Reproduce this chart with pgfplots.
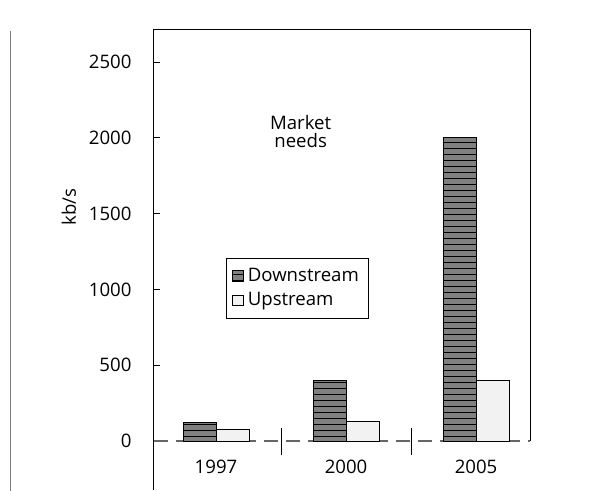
\documentclass[border=0pt]{standalone}
\usepackage{pgfplots}
\pgfplotsset{compat=1.18}
\usetikzlibrary{patterns}
\usepackage{fontspec}
\setmainfont{Open Sans}
\begin{document}
\fontsize{9.3}{11}\selectfont
\begin{tikzpicture}
\path[use as bounding box] (0,0) rectangle (300.5pt,245.5pt);
\draw[black!50, line width=0.4pt] (5pt,0) -- (5pt,230pt);
\begin{axis}[
  at={(77pt,0.5pt)}, anchor=south west,
  scale only axis, width=188pt, height=230pt,
  xmin=-0.477, xmax=2.415, ymin=-323, ymax=2711,
  axis line style={draw=none},
  xtick=\empty,
  ytick={0,500,1000,1500,2000,2500},
  ytick pos=left, tick align=inside, major tick length=3pt,
  tick style={black, line width=0.4pt},
  yticklabel style={xshift=-8pt, font=\fontsize{9.3}{11}\selectfont},
  /pgf/number format/assume math mode=true,
  scaled y ticks=false,
  /pgf/number format/1000 sep={},
  ybar=0pt, bar width=16.5pt,
  legend style={at={(rel axis cs:0.191,0.504)}, anchor=north west,
    draw=black, line width=0.4pt, inner sep=3pt, row sep=0pt,
    font=\fontsize{9.3}{11}\selectfont, cells={anchor=west}},
  legend image code/.code={\draw[#1, line width=0.4pt] (0cm,-0.09cm) rectangle (0.19cm,0.1cm);},
  clip=false,
]
\draw[black!60, dash pattern=on 7pt off 4pt, line width=0.6pt] (axis cs:-0.477,0) -- (axis cs:2.415,0);
\addplot[draw=black, line width=0.5pt, fill=black!50, postaction={pattern=horizontal lines}]
  coordinates {(0,120) (1,400) (2,2000)};
\addplot[draw=black, line width=0.5pt, fill=black!5]
  coordinates {(0,75) (1,130) (2,400)};
\legend{Downstream, Upstream}
\draw[black, line width=0.5pt] (rel axis cs:0,0) -- (rel axis cs:0,1) -- (rel axis cs:1,1) -- (axis cs:2.415,0);
\draw[black, line width=0.4pt] ([yshift=6.5pt]axis cs:0.5,0) -- ([yshift=-7pt]axis cs:0.5,0);
\draw[black, line width=0.4pt] ([yshift=6.5pt]axis cs:1.5,0) -- ([yshift=-7pt]axis cs:1.5,0);
\node at (axis cs:0,0) [yshift=-13pt] {1997};
\node at (axis cs:1,0) [yshift=-13pt] {2000};
\node at (axis cs:2,0) [yshift=-13pt] {2005};
\node[align=center, inner sep=0pt] at (rel axis cs:0.39,0.78) {Market\\[-2pt]needs};
\end{axis}
\node[rotate=90] at (34.5pt,142pt) {kb/s};
\end{tikzpicture}
\end{document}
